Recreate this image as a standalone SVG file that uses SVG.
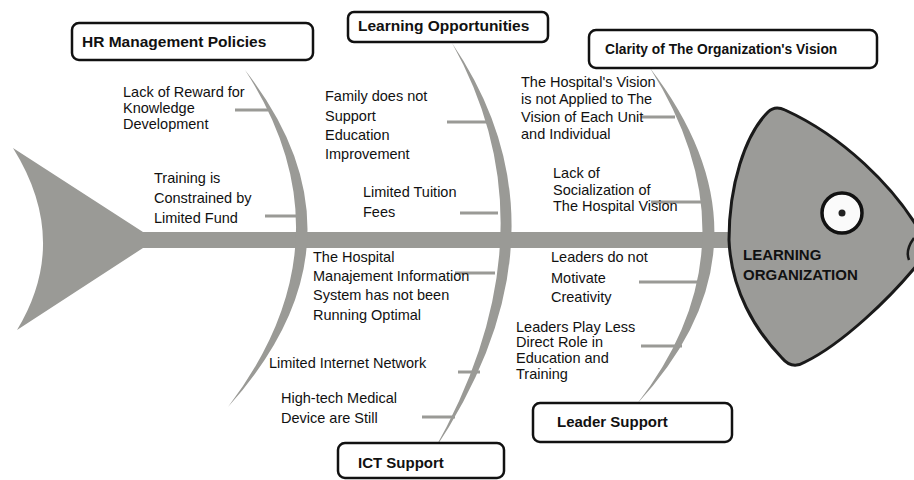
<svg xmlns="http://www.w3.org/2000/svg" width="914" height="480" viewBox="0 0 914 480">
<style>
.bone{fill:#9a9a96;stroke:none}
.rib{stroke:#9a9a96;stroke-width:3;fill:none}
.box{fill:#fff;stroke:#111;stroke-width:2.5}
.bt{font-family:"Liberation Sans",Arial,sans-serif;font-weight:bold;fill:#111}
.lt{font-family:"Liberation Sans",Arial,sans-serif;font-size:14.5px;fill:#111}
</style>
<rect width="914" height="480" fill="#fff"/>
<g id="connectors">
<path id="tail" class="bone" d="M13,148 L143,232 L143,248 L17,330 Q71,241 13,148 Z"/>
<rect id="spine" class="bone" x="140" y="232" width="600" height="16"/>
<path id="bone-hr-ict1" class="bone" d="M245,70 Q378,240 228,407 Q355,240 245,70 Z"/>
<path id="bone-learning-ict" class="bone" d="M452,43 Q580,232 433,452 Q558,232 452,43 Z"/>
<path id="bone-clarity-leader" class="bone" d="M650,68 Q785,244 637,404 Q761,244 650,68 Z"/>
<line class="rib" x1="235" y1="110" x2="268" y2="110"/>
<line class="rib" x1="265" y1="216" x2="300" y2="216"/>
<line class="rib" x1="447" y1="122" x2="488" y2="122"/>
<line class="rib" x1="460" y1="213" x2="498" y2="213"/>
<line class="rib" x1="455" y1="273" x2="495" y2="273"/>
<line class="rib" x1="458" y1="372" x2="480" y2="372"/>
<line class="rib" x1="422" y1="417" x2="455" y2="417"/>
<line class="rib" x1="641" y1="117" x2="675" y2="117"/>
<line class="rib" x1="651" y1="202" x2="705" y2="202"/>
<line class="rib" x1="639" y1="282" x2="702" y2="282"/>
<line class="rib" x1="641" y1="346" x2="682" y2="346"/>
</g>
<g id="head">
<path d="M729,240 C729,185 745,135 768,112 Q775,105 785,110 C840,135 895,185 925,240 L925,255 C890,300 840,345 805,362 Q792,370 782,358 C755,330 731,290 729,240 Z" fill="#9b9b98" stroke="#1a1a1a" stroke-width="3"/>
<path d="M914,238 Q905,250 909,260" fill="none" stroke="#1a1a1a" stroke-width="2.5"/>
<circle cx="842" cy="213" r="20" fill="#fafafa" stroke="#111" stroke-width="3.5"/>
<circle cx="842" cy="213" r="3.5" fill="#222"/>
<text class="bt" font-size="15" x="743" y="260">LEARNING</text>
<text class="bt" font-size="15" x="743" y="280">ORGANIZATION</text>
</g>
<g id="hr-management-policies">
<rect class="box" x="72" y="23" width="241" height="37" rx="7"/>
<text class="bt" font-size="15.5" x="82" y="47">HR Management Policies</text>
</g>
<g id="learning-opportunities">
<rect class="box" x="348" y="12" width="200" height="30" rx="6"/>
<text class="bt" font-size="15.5" x="358" y="31">Learning Opportunities</text>
</g>
<g id="clarity-vision">
<rect class="box" x="589" y="30" width="288" height="38" rx="7"/>
<text class="bt" font-size="13.8" x="605" y="54">Clarity of The Organization's Vision</text>
</g>
<g id="ict-support">
<rect class="box" x="338" y="443" width="166" height="35" rx="7"/>
<text class="bt" font-size="15" x="358" y="468">ICT Support</text>
</g>
<g id="leader-support">
<rect class="box" x="533" y="403" width="199" height="39" rx="7"/>
<text class="bt" font-size="15" x="557" y="427">Leader Support</text>
</g>
<g id="cause-reward">
<text class="lt" x="123" y="97">Lack of Reward for</text>
<text class="lt" x="123" y="113">Knowledge</text>
<text class="lt" x="123" y="129">Development</text>
</g>
<g id="cause-training">
<text class="lt" x="154" y="183">Training is</text>
<text class="lt" x="154" y="203">Constrained by</text>
<text class="lt" x="154" y="223">Limited Fund</text>
</g>
<g id="cause-family">
<text class="lt" x="325" y="101">Family does not</text>
<text class="lt" x="325" y="121">Support</text>
<text class="lt" x="325" y="140">Education</text>
<text class="lt" x="325" y="159">Improvement</text>
</g>
<g id="cause-tuition">
<text class="lt" x="363" y="197">Limited Tuition</text>
<text class="lt" x="363" y="217">Fees</text>
</g>
<g id="cause-vision-applied">
<text class="lt" x="521" y="87">The Hospital's Vision</text>
<text class="lt" x="521" y="104">is not Applied to The</text>
<text class="lt" x="521" y="122">Vision of Each Unit</text>
<text class="lt" x="521" y="139">and Individual</text>
</g>
<g id="cause-socialization">
<text class="lt" x="553" y="178">Lack of</text>
<text class="lt" x="553" y="195">Socialization of</text>
<text class="lt" x="553" y="211">The Hospital Vision</text>
</g>
<g id="cause-mis">
<text class="lt" x="313" y="262">The Hospital</text>
<text class="lt" x="313" y="281">Manajement Information</text>
<text class="lt" x="313" y="300">System has not been</text>
<text class="lt" x="313" y="320">Running Optimal</text>
</g>
<g id="cause-internet">
<text class="lt" x="269" y="368">Limited Internet Network</text>
</g>
<g id="cause-hightech">
<text class="lt" x="281" y="403">High-tech Medical</text>
<text class="lt" x="281" y="423">Device are Still</text>
</g>
<g id="cause-motivate">
<text class="lt" x="551" y="262">Leaders do not</text>
<text class="lt" x="551" y="283">Motivate</text>
<text class="lt" x="551" y="302">Creativity</text>
</g>
<g id="cause-direct-role">
<text class="lt" x="516" y="332">Leaders Play Less</text>
<text class="lt" x="516" y="347">Direct Role in</text>
<text class="lt" x="516" y="363">Education and</text>
<text class="lt" x="516" y="379">Training</text>
</g>
</svg>
